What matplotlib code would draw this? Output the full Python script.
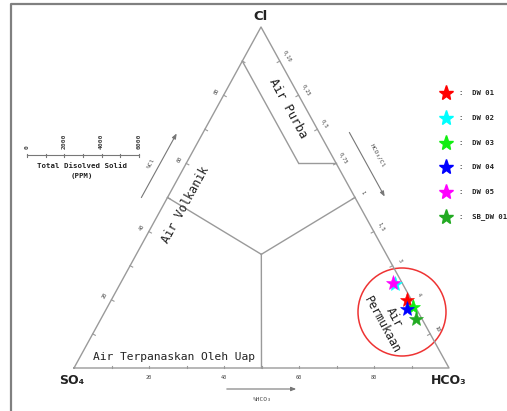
import numpy as np
import matplotlib
matplotlib.use("Agg")
import matplotlib.pyplot as plt
from matplotlib.patches import Circle

# sample data (percent of Cl, SO4, HCO3)
samples = ["DW 01", "DW 02", "DW 03", "DW 04", "DW 05", "SB_DW 01"]
colors = ["#ff0000", "#00ffff", "#11ee11", "#0000ff", "#ff00ff", "#22aa22"]
cl_pct = [19.9, 24.6, 18.0, 17.2, 24.8, 14.3]
so4_pct = [1.2, 2.2, 0.6, 2.6, 2.4, 1.6]
hco3_pct = [78.9, 73.2, 81.4, 80.2, 72.8, 84.1]

# axis labels
pct_labels = [20, 40, 60, 80]
ratio_labels = ["0,10", "0,25", "0,5", "0,75", "1", "1,5", "3", "4", "10"]
tds_ticks = [0, 1000, 2000, 3000, 4000, 5000, 6000]
tds_labels = [0, 2000, 4000, 6000]

# triangle corners in figure pixels
SO4 = np.array([74.0, 368.0])
HCO3 = np.array([449.0, 368.0])
CL = np.array([261.0, 27.0])
GRAY = "#9a9a9a"
MONO = "DejaVu Sans Mono"


def tern(cl, so4, hco3):
    tot = cl + so4 + hco3
    p = (SO4 * so4 + HCO3 * hco3 + CL * cl) / tot
    return p[0], p[1]


fig = plt.figure(figsize=(5.07, 4.11), dpi=100)
ax = fig.add_axes([0, 0, 1, 1])
ax.set_xlim(0, 507)
ax.set_ylim(411, 0)
ax.axis("off")

# outer frame
ax.plot([11, 11, 507], [411, 4, 4], color="#808080", lw=1.6)

# triangle
tri = np.array([SO4, HCO3, CL, SO4])
ax.plot(tri[:, 0], tri[:, 1], color=GRAY, lw=1)

# zone boundaries
def seg(a, b):
    p1 = tern(*a)
    p2 = tern(*b)
    ax.plot([p1[0], p2[0]], [p1[1], p2[1]], color=GRAY, lw=1)

seg((90, 10, 0), (60, 10, 30))
seg((60, 10, 30), (60, 0, 40))
seg((1, 1, 1), (50, 50, 0))
seg((1, 1, 1), (50, 0, 50))
seg((1, 1, 1), (0, 50, 50))

# ticks
ang_l = np.degrees(np.arctan2(CL[1] - SO4[1], CL[0] - SO4[0]))
rot_l = -ang_l
for i in range(1, 10):
    f = i / 10
    # left edge (%Cl)
    p = SO4 + (CL - SO4) * f
    ax.plot([p[0], p[0] + 2.6], [p[1], p[1] + 1.4], color=GRAY, lw=0.8)
    # bottom edge (%HCO3)
    q = SO4 + (HCO3 - SO4) * f
    ax.plot([q[0], q[0]], [q[1], q[1] - 2.5], color=GRAY, lw=0.8)
    # right edge (HCO3/Cl)
    r = CL + (HCO3 - CL) * f
    ax.plot([r[0], r[0] - 2.6], [r[1], r[1] + 1.4], color=GRAY, lw=0.8)
    ax.text(r[0] + 7, r[1] - 5, ratio_labels[i - 1], fontsize=3.8, family=MONO,
            color="#444444", rotation=-rot_l, ha="center", va="center")

for v in pct_labels:
    f = v / 100
    p = SO4 + (CL - SO4) * f
    ax.text(p[0] - 6.5, p[1] - 4, str(v), fontsize=3.8, family=MONO, color="#444444",
            rotation=rot_l, ha="center", va="center")
    q = SO4 + (HCO3 - SO4) * f
    ax.text(q[0], q[1] + 9, str(v), fontsize=3.8, family=MONO, color="#444444",
            ha="center", va="center")

# corner labels
ax.text(261, 16, "Cl", fontsize=9.5, weight="bold", ha="center", va="center", color="#222222")
ax.text(72, 380, "SO₄", fontsize=9, weight="bold", ha="center", va="center", color="#222222")
ax.text(449, 380, "HCO₃", fontsize=9, weight="bold", ha="center", va="center", color="#222222")

# direction arrows
arrow = dict(arrowstyle="-|>,head_length=0.3,head_width=0.12", color="#777777", lw=0.8)
ax.annotate("", xy=(178, 131), xytext=(140, 200), arrowprops=arrow)
ax.text(151, 163, "%Cl", fontsize=4.5, family=MONO, rotation=rot_l, ha="center", va="center", color="#444444")
ax.annotate("", xy=(386, 199), xytext=(348, 130), arrowprops=arrow)
ax.text(378, 156, "HCO₃/Cl", fontsize=4.5, family=MONO, rotation=-rot_l, ha="center", va="center", color="#444444")
ax.annotate("", xy=(299, 389), xytext=(224, 389), arrowprops=arrow)
ax.text(262, 399, "%HCO₃", fontsize=4.5, family=MONO, ha="center", va="center", color="#444444")

# zone names
ax.text(288, 108, "Air Purba", fontsize=8.8, family=MONO, rotation=-rot_l, ha="center", va="center", color="#222222")
ax.text(185, 205, "Air Volkanik", fontsize=8.6, family=MONO, rotation=rot_l, ha="center", va="center", color="#222222")
ax.text(174, 357, "Air Terpanaskan Oleh Uap", fontsize=8.1, family=MONO, ha="center", va="center", color="#222222")
ax.text(388, 321, "Air\nPermukaan", fontsize=8.4, family=MONO, rotation=-rot_l, ha="center", va="center",
        multialignment="center", color="#222222", linespacing=1.15)

# TDS scale
x0, x1, ybar = 27, 139, 155
ax.plot([x0, x1], [ybar, ybar], color="#777777", lw=0.8)
for t in tds_ticks:
    x = x0 + (x1 - x0) * t / tds_ticks[-1]
    ax.plot([x, x], [ybar - 1, ybar + 2.5], color="#777777", lw=0.8)
for t in tds_labels:
    x = x0 + (x1 - x0) * t / tds_ticks[-1]
    ax.text(x, ybar - 6, str(t), fontsize=4.6, family=MONO, weight="bold", rotation=90,
            ha="center", va="bottom", color="#444444")
ax.text(82, 166, "Total Disolved Solid", fontsize=5.3, family=MONO, weight="bold", ha="center", va="center", color="#222222")
ax.text(82, 176, "(PPM)", fontsize=5.3, family=MONO, weight="bold", ha="center", va="center", color="#222222")

# red circle around samples
ax.add_patch(Circle((402, 312), 44, fill=False, ec="#ee3333", lw=1.1))

# samples
for c, a, b, d in zip(colors, cl_pct, so4_pct, hco3_pct):
    x, y = tern(a, b, d)
    ax.plot(x, y, marker="*", ms=11, color=c, mec=c, mew=0.4, ls="none")

# legend
for i, (name, c) in enumerate(zip(samples, colors)):
    y = 93 + i * 24.8
    ax.plot(446, y, marker="*", ms=11, color=c, ls="none")
    ax.text(459, y, ":  " + name, fontsize=5.2, family=MONO,
            weight="bold", ha="left", va="center", color="#222222")

fig.savefig("out.png", dpi=100)
